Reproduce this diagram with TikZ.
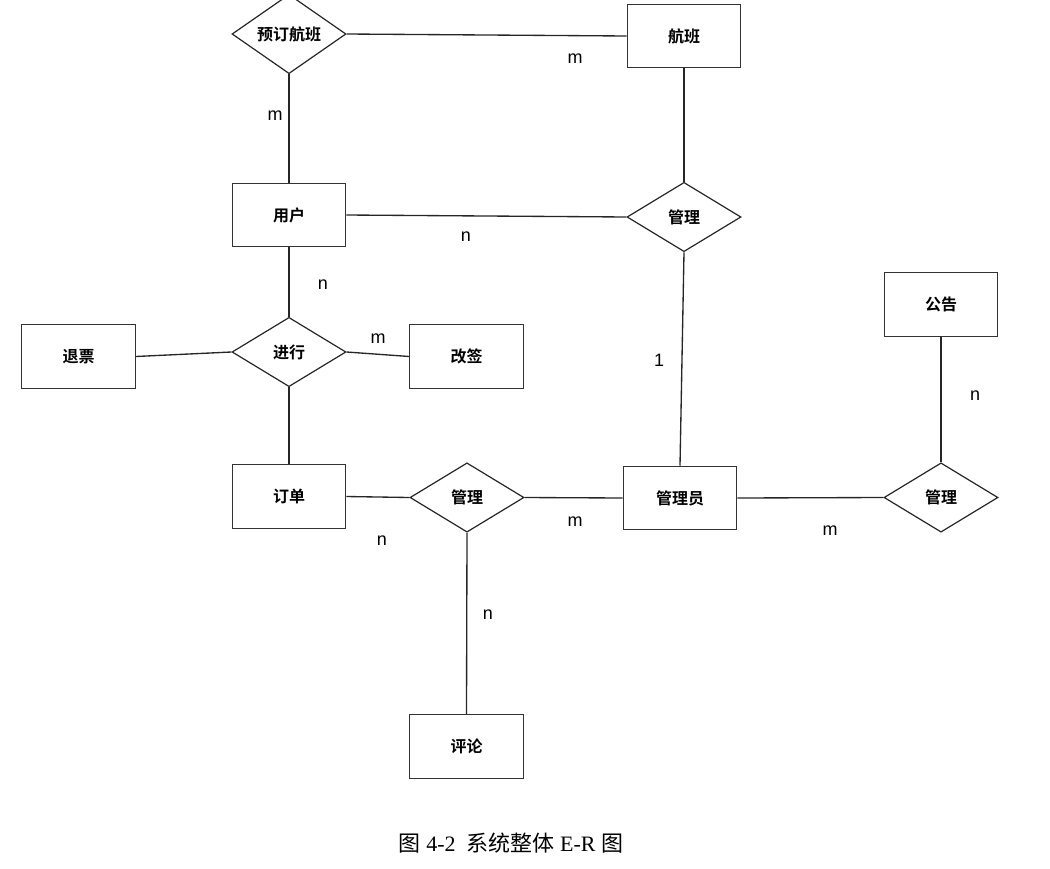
\documentclass[tikz,border=0pt]{standalone}
\usepackage{fontspec}
\setmainfont{Liberation Serif}
\newfontfamily\cjk{Noto Sans CJK SC}[BoldFont={Noto Sans CJK SC Bold}]
\newfontfamily\lab{Liberation Sans}
\usetikzlibrary{shapes.geometric}
\begin{document}
\begin{tikzpicture}[x=0.75pt,y=-0.75pt,
  ent/.style={draw=black!80,line width=0.9pt,rectangle,minimum width=85pt,minimum height=47.5pt,inner sep=0pt,font=\cjk\bfseries\fontsize{12}{14}\selectfont},
  rel/.style={draw=black!85,line width=0.9pt,diamond,minimum width=85.5pt,minimum height=52pt,inner sep=0pt,font=\cjk\bfseries\fontsize{12}{14}\selectfont},
  conn/.style={draw=black!85,line width=1pt},
  card/.style={font=\lab\fontsize{13.5}{15}\selectfont,inner sep=0pt}]
\useasboundingbox (0,0) rectangle (1050,868);
% entities
\node[ent] (hb) at (684,36) {航班};
\node[ent] (yh) at (289,215) {用户};
\node[ent] (tp) at (78.5,356.5) {退票};
\node[ent] (gq) at (466.5,356.5) {改签};
\node[ent] (dd) at (289,496.5) {订单};
\node[ent] (gly) at (680,498) {管理员};
\node[ent] (gg) at (941,304.5) {公告};
\node[ent] (pl) at (466.5,746.5) {评论};
% relationships
\node[rel] (ydhb) at (289,34) {预订航班};
\node[rel] (gl1) at (684,217) {管理};
\node[rel] (jx) at (289,352) {进行};
\node[rel] (gl2) at (467,497.5) {管理};
\node[rel] (gl3) at (941,497.5) {管理};
% connectors
\draw[conn] (ydhb.east) -- (hb.west);
\draw[conn] (ydhb.south) -- (yh.north);
\draw[conn] (hb.south) -- (gl1.north);
\draw[conn] (yh.east) -- (gl1.west);
\draw[conn] (yh.south) -- (jx.north);
\draw[conn] (tp.east) -- (jx.west);
\draw[conn] (jx.east) -- (gq.west);
\draw[conn] (jx.south) -- (dd.north);
\draw[conn] (dd.east) -- (gl2.west);
\draw[conn] (gl2.east) -- (gly.west);
\draw[conn] (gl2.south) -- (pl.north);
\draw[conn] (gl1.south) -- (gly.north);
\draw[conn] (gly.east) -- (gl3.west);
\draw[conn] (gg.south) -- (gl3.north);
% cardinalities
\node[card] (c1) at (575,59) {m};
\node[card] (c2) at (275,116) {m};
\node[card] (c3) at (466,237) {n};
\node[card] (c4) at (323,285) {n};
\node[card] (c5) at (378,339) {m};
\node[card] (c6) at (659,360) {1};
\node[card] (c7) at (975,396) {n};
\node[card] (c8) at (382,541) {n};
\node[card] (c9) at (575,522) {m};
\node[card] (c10) at (830,531) {m};
\node[card] (c11) at (488,615) {n};
% caption
\node[font=\fontsize{16.5}{19}\selectfont,inner sep=0pt] (cap) at (511,843) {{\cjk 图} 4-2\ \ {\cjk 系统整体} E-R {\cjk 图}};
\end{tikzpicture}
\end{document}
